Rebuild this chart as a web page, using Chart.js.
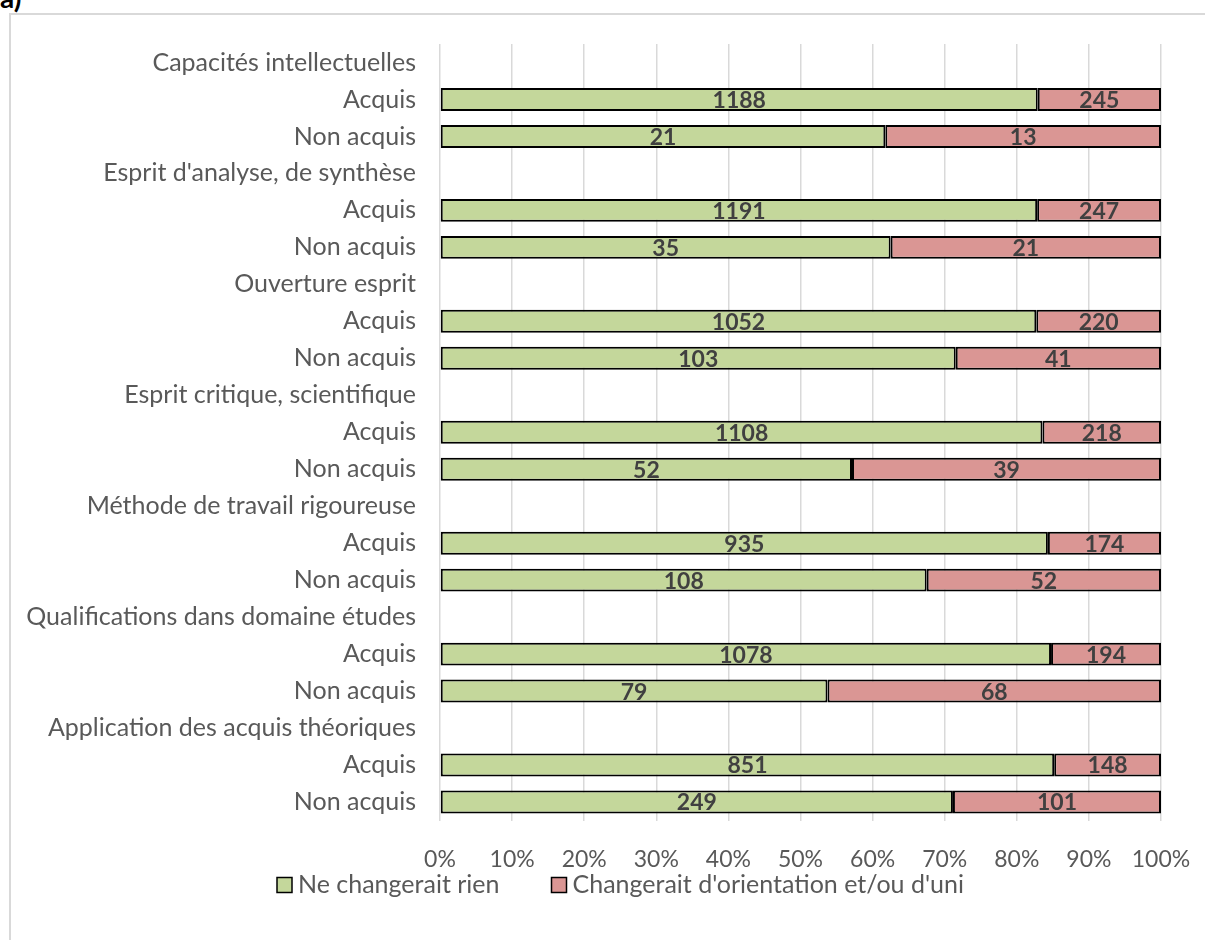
<!DOCTYPE html>
<html>
<head>
<meta charset="utf-8">
<script src="https://cdn.jsdelivr.net/npm/chart.js@4.4.1/dist/chart.umd.min.js"></script>
<style>
  html, body { margin: 0; padding: 0; background: #fff; overflow: hidden; }
  #wrap { position: relative; width: 1205px; height: 940px; }
  #frame { position: absolute; left: 9px; top: 13px; width: 1400px; height: 1100px; border: 2px solid #d9d9d9; box-sizing: border-box; }
  #tag { position: absolute; left: 0; top: -20px; font: bold 28px Lato, sans-serif; color: #000; line-height: 34px; }
  canvas { position: absolute; left: 0; top: 0; }
</style>
</head>
<body>
<div id="wrap">
  <div id="frame"></div>
  <div id="tag">a)</div>
  <canvas id="chart" width="1205" height="940"></canvas>
</div>
<script>
// --- données ---
const categories = [
  "Capacités intellectuelles", "Acquis", "Non acquis",
  "Esprit d'analyse, de synthèse", "Acquis", "Non acquis",
  "Ouverture esprit", "Acquis", "Non acquis",
  "Esprit critique, scientifique", "Acquis", "Non acquis",
  "Méthode de travail rigoureuse", "Acquis", "Non acquis",
  "Qualifications dans domaine études", "Acquis", "Non acquis",
  "Application des acquis théoriques", "Acquis", "Non acquis"
];
// effectifs (null = ligne de titre)
const neChangeraitRien = [null, 1188, 21, null, 1191, 35, null, 1052, 103, null, 1108, 52, null, 935, 108, null, 1078, 79, null, 851, 249];
const changerait       = [null, 245, 13, null, 247, 21, null, 220, 41, null, 218, 39, null, 174, 52, null, 194, 68, null, 148, 101];
const xTicks = [0, 10, 20, 30, 40, 50, 60, 70, 80, 90, 100];

const FONT = "Lato, sans-serif";
const GREY = "#595959";

// pourcentages pour la barre empilée 100%
function pct(a, b) {
  return a.map((v, i) => v == null ? null : 100 * v / (v + b[i]));
}

// étiquettes au centre des segments
const labelPlugin = {
  id: 'segLabels',
  afterDatasetsDraw(chart) {
    const ctx = chart.ctx;
    ctx.save();
    ctx.font = "bold 23px " + FONT;
    ctx.fillStyle = "#404040";
    ctx.textAlign = "center";
    ctx.textBaseline = "middle";
    chart.data.datasets.forEach((ds, di) => {
      chart.getDatasetMeta(di).data.forEach((bar, i) => {
        const n = ds.counts[i];
        if (n == null) return;
        const p = bar.getProps(['x', 'y', 'base'], true);
        ctx.fillText(n, (p.x + p.base) / 2, p.y + 1);
      });
    });
    ctx.restore();
  }
};

// légende dessinée à la main (espacement façon Excel)
const legendPlugin = {
  id: 'xlLegend',
  afterDraw(chart) {
    const ctx = chart.ctx;
    ctx.save();
    ctx.font = "25px " + FONT;
    ctx.textBaseline = "middle";
    let x = 277;
    const y = 885;
    chart.data.datasets.forEach(ds => {
      ctx.fillStyle = ds.backgroundColor;
      ctx.fillRect(x, y - 7.5, 15, 15);
      ctx.strokeStyle = '#000';
      ctx.lineWidth = 1.5;
      ctx.strokeRect(x, y - 7.5, 15, 15);
      ctx.fillStyle = GREY;
      ctx.fillText(ds.label, x + 21, y);
      x += 21 + ctx.measureText(ds.label).width + 52;
    });
    ctx.restore();
  }
};

new Chart(document.getElementById('chart'), {
  type: 'bar',
  data: {
    labels: categories,
    datasets: [
      {
        label: 'Ne changerait rien',
        data: pct(neChangeraitRien, changerait),
        counts: neChangeraitRien,
        backgroundColor: '#c4d79b',
        borderColor: '#000',
        borderWidth: 2,
        borderSkipped: false,
        categoryPercentage: 1,
        barPercentage: 0.62
      },
      {
        label: "Changerait d'orientation et/ou d'uni",
        data: pct(changerait, neChangeraitRien),
        counts: changerait,
        backgroundColor: '#da9694',
        borderColor: '#000',
        borderWidth: 2,
        borderSkipped: false,
        categoryPercentage: 1,
        barPercentage: 0.62
      }
    ]
  },
  options: {
    indexAxis: 'y',
    responsive: false,
    animation: false,
    layout: { padding: { left: 10, right: 44, top: 44, bottom: 67.5 } },
    plugins: {
      tooltip: { enabled: false },
      legend: { display: false }
    },
    scales: {
      x: {
        stacked: true,
        min: 0, max: 100,
        afterBuildTicks: s => { s.ticks = xTicks.map(v => ({ value: v })); },
        afterFit: s => { s.height = 52; s.paddingLeft = 0; s.paddingRight = 0; },
        grid: { color: '#d9d9d9', lineWidth: 1.5, drawTicks: false },
        border: { display: false },
        ticks: {
          padding: 25,
          color: GREY,
          font: { family: FONT, size: 23 },
          callback: v => v + '%'
        }
      },
      y: {
        stacked: true,
        afterFit: s => { s.width = 430; },
        grid: { display: false, drawTicks: false },
        border: { display: false },
        ticks: {
          autoSkip: false,
          padding: 24,
          color: GREY,
          font: { family: FONT, size: 25 }
        }
      }
    }
  },
  plugins: [labelPlugin, legendPlugin]
});
</script>
</body>
</html>
